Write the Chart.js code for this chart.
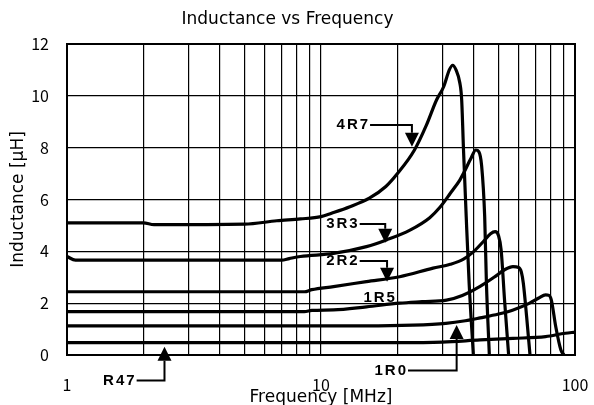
<!DOCTYPE html>
<html>
<head>
<meta charset="utf-8">
<script src="https://cdn.jsdelivr.net/npm/chart.js@4.4.1/dist/chart.umd.min.js"></script>
<style>
    html, body { margin: 0; padding: 0; background: #fff; }
    #wrap { width: 594px; height: 405px; position: relative; }
</style>
</head>
<body>
<div id="wrap"><canvas id="lfChart"></canvas></div>
<script>
// 刻み (x軸の目盛り)
const xTicks = [1, 2, 3, 4, 5, 6, 7, 8, 9, 10, 20, 30, 40, 50, 60, 70, 80, 90, 100];
const xLabels = [1, 10, 100];

// 各品番の周波数 [MHz] とインダクタンス [μH]
const f4R7 = [1, 2, 2.2, 5, 6.7, 8.3, 10, 11, 13, 15.5, 18, 20, 23.3, 26, 28.5, 30.4, 32, 33, 34, 35.2, 35.8, 36.4, 37.3, 38.3, 39.8];
const l4R7 = [5.1, 5.1, 5.03, 5.05, 5.18, 5.25, 5.34, 5.47, 5.72, 6.05, 6.5, 7.0, 7.9, 8.87, 9.84, 10.35, 11.0, 11.18, 11.0, 10.5, 9.84, 7.9, 5.34, 2.77, 0];

const f3R3 = [1, 1.08, 2, 7, 7.5, 8.3, 11.2, 15.1, 18.1, 22.4, 26.8, 29.4, 32.3, 35.2, 36.4, 39, 40.7, 41.8, 42.9, 44.1, 44.8, 46];
const l3R3 = [3.8, 3.66, 3.66, 3.66, 3.72, 3.8, 3.92, 4.18, 4.44, 4.82, 5.3, 5.7, 6.24, 6.75, 7.01, 7.6, 7.91, 7.85, 7.3, 5.34, 2.77, 0];

const f2R2 = [1, 8.6, 9.2, 11.2, 15.1, 20.4, 27.6, 32.3, 36.4, 40, 43.5, 46.5, 48.5, 50, 51.2, 52.8, 54.8];
const l2R2 = [2.44, 2.44, 2.52, 2.64, 2.83, 3.02, 3.35, 3.5, 3.7, 4.0, 4.37, 4.68, 4.76, 4.6, 4.05, 2.12, 0];

const f1R5 = [1, 8.6, 9.2, 11.2, 15.1, 20.4, 25, 31.2, 36, 42.3, 48, 53, 57, 60, 61.5, 62.6, 64.5, 66.5];
const l1R5 = [1.67, 1.67, 1.72, 1.74, 1.86, 2.0, 2.06, 2.12, 2.3, 2.65, 3.0, 3.3, 3.41, 3.38, 3.2, 2.77, 1.48, 0];

const f1R0 = [1, 15, 23, 31, 37, 42.3, 50, 57.1, 66.3, 72, 76.6, 79, 80.7, 84, 88, 90.5];
const l1R0 = [1.12, 1.12, 1.15, 1.22, 1.32, 1.43, 1.58, 1.74, 2.0, 2.2, 2.32, 2.3, 2.12, 1.09, 0.19, 0];

const fR47 = [1, 20, 30, 42.3, 57, 76.6, 91.6, 100];
const lR47 = [0.48, 0.48, 0.5, 0.58, 0.64, 0.71, 0.84, 0.88];

// 品番ラベルと矢印 (データ座標)
const callouts = [
    { text: '4R7', endX: 15.6, lineY: 8.87, tipX: 22.8, tipY: 8.04 },
    { text: '3R3', endX: 14.2, lineY: 5.05, tipX: 17.9, tipY: 4.33 },
    { text: '2R2', endX: 14.2, lineY: 3.63, tipX: 18.2, tipY: 2.83 },
    { text: '1R5', endX: 17.1, lineY: 2.22 },
    { text: '1R0', endX: 22.0, lineY: -0.6, tipX: 34.2, tipY: 1.16 },
    { text: 'R47', endX: 1.88, lineY: -0.98, tipX: 2.42, tipY: 0.32 }
];

const FONT = '"Noto Sans CJK JP", "DejaVu Sans", sans-serif';
const WIDE = '"DejaVu Sans", sans-serif';

function toPoints(fs, ls) {
    return fs.map((f, i) => ({ x: f, y: ls[i] }));
}

function makeSet(label, fs, ls) {
    return {
        label: label,
        data: toPoints(fs, ls),
        borderColor: '#000',
        borderWidth: 3.2,
        pointRadius: 0,
        fill: false,
        cubicInterpolationMode: 'monotone',
        borderCapStyle: 'round',
        borderJoinStyle: 'round'
    };
}

// 枠線と矢印を描くプラグイン
const calloutPlugin = {
    id: 'callouts',
    afterDatasetsDraw(chart) {
        const ctx = chart.ctx;
        const xs = chart.scales.x;
        const ys = chart.scales.y;
        const area = chart.chartArea;

        ctx.save();
        ctx.strokeStyle = '#000';
        ctx.lineWidth = 2;
        ctx.strokeRect(area.left, area.top, area.right - area.left, area.bottom - area.top);

        ctx.fillStyle = '#000';
        ctx.font = 'bold 15px "Liberation Sans", Arial, sans-serif';
        ctx.letterSpacing = '2px';
        ctx.textBaseline = 'middle';

        callouts.forEach(c => {
            const ex = xs.getPixelForValue(c.endX);
            const ly = ys.getPixelForValue(c.lineY);
            if (c.tipX === undefined) {
                ctx.textAlign = 'center';
                ctx.fillText(c.text, ex, ly);
                return;
            }
            ctx.textAlign = 'right';
            ctx.fillText(c.text, ex, ly);

            const tx = xs.getPixelForValue(c.tipX);
            const ty = ys.getPixelForValue(c.tipY);
            const down = ty > ly;
            const head = 14;
            const baseY = down ? ty - head : ty + head;

            ctx.lineWidth = 2;
            ctx.beginPath();
            ctx.moveTo(ex, ly);
            ctx.lineTo(tx, ly);
            ctx.lineTo(tx, baseY);
            ctx.stroke();

            ctx.beginPath();
            ctx.moveTo(tx, ty);
            ctx.lineTo(tx - 7, baseY);
            ctx.lineTo(tx + 7, baseY);
            ctx.closePath();
            ctx.fill();
        });
        ctx.restore();
    }
};

document.addEventListener('DOMContentLoaded', function() {
    const ctx = document.getElementById('lfChart');

    new Chart(ctx, {
        type: 'line',
        data: {
            datasets: [
                makeSet('4R7', f4R7, l4R7),
                makeSet('3R3', f3R3, l3R3),
                makeSet('2R2', f2R2, l2R2),
                makeSet('1R5', f1R5, l1R5),
                makeSet('1R0', f1R0, l1R0),
                makeSet('R47', fR47, lR47)
            ]
        },
        options: {
            responsive: true,
            maintainAspectRatio: false,
            animation: false,
            layout: { padding: { left: 0, right: 19, top: 0, bottom: 0 } },
            plugins: {
                legend: { display: false },
                tooltip: { enabled: false },
                title: {
                    display: true,
                    text: 'Inductance vs Frequency',
                    color: '#000',
                    font: { family: WIDE, size: 17, weight: 'normal' },
                    padding: { top: 9, bottom: 14.6 }
                }
            },
            scales: {
                x: {
                    type: 'logarithmic',
                    min: 1,
                    max: 100,
                    afterBuildTicks: function(scale) {
                        scale.ticks = xTicks.map(v => ({ value: v }));
                    },
                    afterFit: function(scale) {
                        scale.height = 50;
                        scale.paddingRight = 0;
                        scale.paddingLeft = 0;
                    },
                    ticks: {
                        autoSkip: false,
                        maxRotation: 0,
                        color: '#000',
                        padding: 20,
                        font: { family: FONT, size: 16 },
                        callback: function(value) {
                            return xLabels.includes(value) ? String(value) : '';
                        }
                    },
                    grid: {
                        color: '#000',
                        lineWidth: 1.2,
                        drawTicks: false
                    },
                    border: { display: false },
                    title: {
                        display: true,
                        text: 'Frequency [MHz]',
                        color: '#000',
                        font: { family: WIDE, size: 17 },
                        padding: { top: 0, bottom: -3 }
                    }
                },
                y: {
                    min: 0,
                    max: 12,
                    afterFit: function(scale) {
                        scale.width = 67;
                    },
                    ticks: {
                        stepSize: 2,
                        color: '#000',
                        padding: 18,
                        font: { family: FONT, size: 16 }
                    },
                    grid: {
                        color: '#000',
                        lineWidth: 1.2,
                        drawTicks: false
                    },
                    border: { display: false },
                    title: {
                        display: true,
                        text: 'Inductance [μH]',
                        color: '#000',
                        font: { family: WIDE, size: 17 },
                        padding: { top: 8, bottom: 0 }
                    }
                }
            }
        },
        plugins: [calloutPlugin]
    });
});
</script>
</body>
</html>
